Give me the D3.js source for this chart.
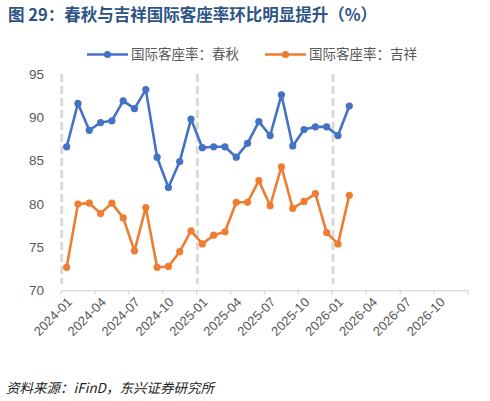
<!DOCTYPE html>
<html>
<head>
<meta charset="utf-8">
<script src="https://cdn.jsdelivr.net/npm/d3@7"></script>
<style>
  body { margin: 0; background: #fff; }
  svg { display: block; font-family: "Liberation Sans", Arial, "Noto Sans CJK SC", sans-serif; }
</style>
</head>
<body>
<div id="chart"></div>
<script>
// mesi sull'asse x (2024-01 .. 2026-12)
const months = [];
for (let y = 2024; y <= 2026; y++) {
    for (let m = 1; m <= 12; m++) months.push(y + '-' + String(m).padStart(2, '0'));
}
const tickLabels = ['2024-01', '2024-04', '2024-07', '2024-10', '2025-01', '2025-04',
    '2025-07', '2025-10', '2026-01', '2026-04', '2026-07', '2026-10'];
const yearStarts = ['2024-01', '2025-01', '2026-01'];

// serie: 国际客座率 春秋 / 吉祥
const springValues = [86.6, 91.6, 88.5, 89.4, 89.6, 91.9, 91.0, 93.2, 85.4, 81.9, 84.9, 89.8,
    86.5, 86.6, 86.6, 85.4, 87.0, 89.5, 87.9, 92.6, 86.7, 88.6, 88.9, 88.9,
    87.9, 91.3];
const juneyaoValues = [72.7, 80.0, 80.1, 78.9, 80.1, 78.4, 74.6, 79.6, 72.7, 72.8, 74.5, 76.9,
    75.4, 76.4, 76.8, 80.2, 80.2, 82.7, 79.8, 84.3, 79.5, 80.3, 81.2, 76.7,
    75.4, 81.0];
const seriesNames = ['国际客座率：春秋', '国际客座率：吉祥'];
const seriesColors = ['#4472C4', '#ED7D31'];
const yTicks = [70, 75, 80, 85, 90, 95];

const W = 490, H = 401;
const svg = d3.select('#chart').append('svg').attr('width', W).attr('height', H);

// titolo
svg.append('text')
    .attr('x', 8).attr('y', 21)
    .style('font-size', '16.5px').style('font-weight', 'bold')
    .style('font-family', '"Noto Sans CJK SC", "Liberation Sans", sans-serif')
    .attr('fill', '#2E5486')
    .text('图 29：春秋与吉祥国际客座率环比明显提升（%）');

// scale
const x = d3.scaleBand().domain(months).range([61, 468]).padding(0);
const y = d3.scaleLinear().domain([70, 95]).range([290.7, 74]);
const cx = (d) => x(d) + x.bandwidth() / 2;

// linee tratteggiate inizio anno
svg.append('g').selectAll('line').data(yearStarts).join('line')
    .attr('x1', (d) => x(d) + 0.7).attr('x2', (d) => x(d) + 0.7)
    .attr('y1', y(95)).attr('y2', y(70) - 7)
    .attr('stroke', '#D9D9D9').attr('stroke-width', 3)
    .attr('stroke-dasharray', '8,4');

// asse x
svg.append('line')
    .attr('x1', 61).attr('x2', 468).attr('y1', y(70)).attr('y2', y(70))
    .attr('stroke', '#D9D9D9').attr('stroke-width', 1.3);
svg.append('g').selectAll('line').data(tickLabels.concat(['end'])).join('line')
    .attr('x1', (d) => d === 'end' ? 468 : x(d)).attr('x2', (d) => d === 'end' ? 468 : x(d))
    .attr('y1', y(70)).attr('y2', y(70) + 4)
    .attr('stroke', '#D9D9D9').attr('stroke-width', 1.3);
svg.append('g').selectAll('text').data(tickLabels).join('text')
    .attr('transform', (d) => `translate(${cx(d) + 3},${y(70) + 9}) rotate(-45)`)
    .attr('text-anchor', 'end').attr('dy', '0.35em')
    .style('font-size', '13px').attr('fill', '#595959')
    .text((d) => d);

// asse y (solo etichette)
svg.append('g').selectAll('text').data(yTicks).join('text')
    .attr('x', 44).attr('y', (d) => y(d)).attr('dy', '0.35em')
    .attr('text-anchor', 'end')
    .style('font-size', '13.5px').attr('fill', '#595959')
    .text((d) => d);

// serie
const allSeries = [springValues, juneyaoValues];
const line = d3.line().x((d, i) => cx(months[i])).y((d) => y(d));
allSeries.forEach(function (vals, k) {
    svg.append('path').datum(vals)
        .attr('d', line).attr('fill', 'none')
        .attr('stroke', seriesColors[k]).attr('stroke-width', 2.6)
        .attr('stroke-linejoin', 'round');
    svg.append('g').selectAll('circle').data(vals).join('circle')
        .attr('cx', (d, i) => cx(months[i])).attr('cy', (d) => y(d))
        .attr('r', 3.6).attr('fill', seriesColors[k]);
});

// legenda
const legendX = [87, 265];
seriesNames.forEach(function (name, k) {
    const g = svg.append('g').attr('transform', `translate(${legendX[k]},54.5)`);
    g.append('line').attr('x1', 0).attr('x2', 41).attr('y1', 0).attr('y2', 0)
        .attr('stroke', seriesColors[k]).attr('stroke-width', 2.6);
    g.append('circle').attr('cx', 20.5).attr('cy', 0).attr('r', 3.6).attr('fill', seriesColors[k]);
    g.append('text').attr('x', 44).attr('y', 0).attr('dy', '0.35em')
        .style('font-size', '13.5px').attr('fill', '#595959')
        .style('font-family', '"Noto Sans CJK SC", sans-serif')
        .text(name);
});

// fonte
svg.append('text')
    .attr('x', 6).attr('y', 393)
    .style('font-size', '13.5px').style('font-style', 'italic')
    .style('font-family', '"Noto Sans CJK SC", "Liberation Sans", sans-serif')
    .attr('fill', '#222')
    .text('资料来源：iFinD，东兴证券研究所');
</script>
</body>
</html>
